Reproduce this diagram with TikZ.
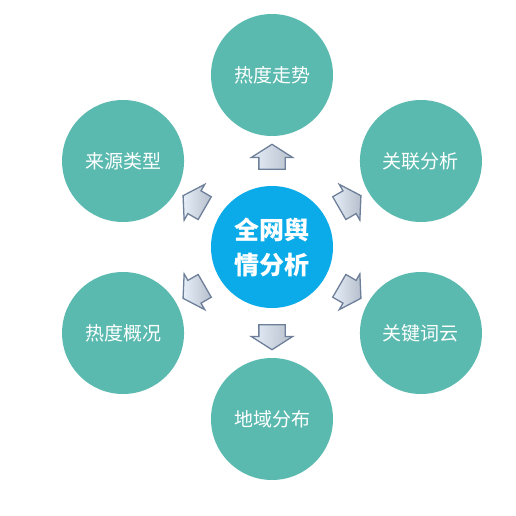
\documentclass[tikz,border=0pt]{standalone}
\usepackage{fontspec}
\usepackage{xcolor}
\usepackage{tikz}
\usetikzlibrary{shapes.arrows}
\setmainfont{Noto Sans CJK SC}
\definecolor{teal}{HTML}{5BBAAF}
\definecolor{hubblue}{HTML}{0BAAE8}
\definecolor{steel}{HTML}{6E7F99}
\definecolor{ice}{HTML}{E6EEF8}

\begin{document}
\begin{tikzpicture}[x=1pt,y=1pt,hub/.style={circle,fill=hubblue,text=white,minimum size=122pt,align=center,font=\fontsize{25}{35}\selectfont\bfseries},topic/.style={circle,fill=teal,text=white,minimum size=122pt,font=\fontsize{19}{22}\selectfont},blk/.style={single arrow,draw=steel,line width=1.3pt,left color=ice,right color=steel!50,minimum height=25pt,minimum width=40pt,single arrow head extend=7.5pt,single arrow tip angle=115,inner xsep=0pt,inner ysep=12.5pt}]
\useasboundingbox (-272,-269) rectangle (243,247);
\node[hub] (hub) at (0,0) {全网舆\\情分析};
\node[topic] (heat) at (90:172) {热度走势};
\node[topic] (link) at (30:172) {关联分析};
\node[topic] (cloud) at (-30:172) {关键词云};
\node[topic] (area) at (-90:172) {地域分布};
\node[topic] (trend) at (210:172) {热度概况};
\node[topic] (source) at (150:172) {来源类型};
\foreach \a/\n in {90/up,30/ur,-30/dr,-90/dn,210/dl,150/ul}
  \node[blk,rotate=\a] (arr\n) at (\a:86) {};
\end{tikzpicture}
\end{document}
